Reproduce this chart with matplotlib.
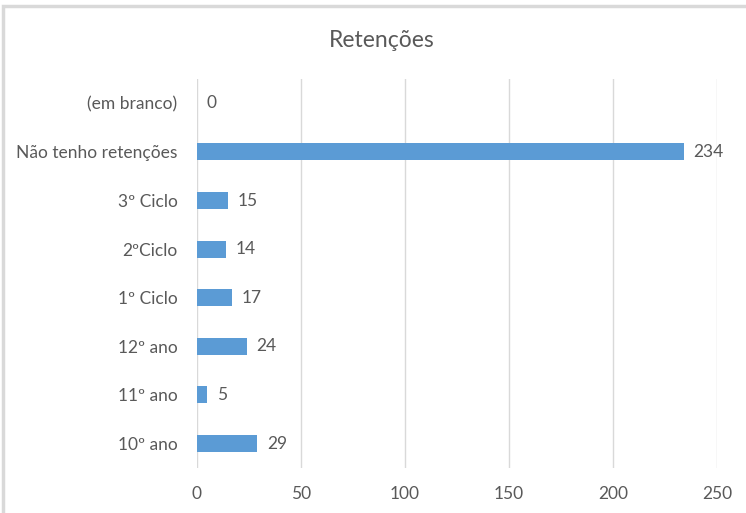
import matplotlib.pyplot as plt
from matplotlib.patches import Rectangle

plt.rcParams['font.family'] = ['Lato', 'DejaVu Sans']

# data, bottom to top
categories = ['10º ano', '11º ano', '12º ano', '1º Ciclo', '2ºCiclo', '3º Ciclo',
              'Não tenho retenções', '(em branco)']
values = [29, 5, 24, 17, 14, 15, 234, 0]
xticks = [0, 50, 100, 150, 200, 250]

text_col = '#595959'
grid_col = '#D9D9D9'
bar_col = '#5B9BD5'

fig = plt.figure(figsize=(7.46, 5.13), dpi=100)
# chart border
fig.patches.append(Rectangle((0.004, -0.01), 1.2, 0.999, transform=fig.transFigure,
                             fill=False, edgecolor=grid_col, linewidth=2.5))

ax = fig.add_axes([0.264, 0.088, 0.697, 0.758])
pos = range(len(categories))
ax.barh(pos, values, height=0.35, color=bar_col, zorder=3)

for p, v in zip(pos, values):
    ax.annotate(str(v), (v, p), xytext=(7, 0), textcoords='offset points',
                va='center', ha='left', fontsize=12.5, color=text_col)

ax.set_xlim(0, 250)
ax.set_ylim(-0.5, len(categories) - 0.5)
ax.set_xticks(xticks)
ax.set_yticks(list(pos))
ax.set_yticklabels(categories)
ax.tick_params(axis='both', length=0, labelsize=12.5, colors=text_col)
ax.tick_params(axis='x', pad=13)
ax.tick_params(axis='y', pad=14)
ax.grid(axis='x', color=grid_col, linewidth=1, zorder=0)
for s in ax.spines.values():
    s.set_visible(False)

fig.text(0.512, 0.922, 'Retenções', ha='center', va='center', fontsize=16.5, color=text_col)

plt.savefig('out.png', dpi=100)
